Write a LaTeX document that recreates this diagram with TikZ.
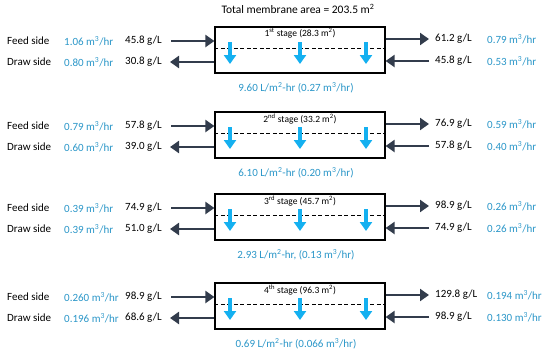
\documentclass[tikz,border=0pt]{standalone}
\usepackage{fontspec}
\setmainfont{Carlito}
\usepackage{tikz}
\usetikzlibrary{positioning,arrows.meta}
\definecolor{flowblue}{RGB}{42,150,200}
\definecolor{permblue}{RGB}{20,176,240}
\definecolor{darkline}{RGB}{50,60,76}

\begin{document}
\begin{tikzpicture}[
    x=1pt, y=-1pt,
    every node/.style={font=\fontsize{11}{13}\selectfont, inner sep=0pt},
    stagebox/.style={draw, line width=1.2pt, minimum width=170pt, minimum height=46pt},
    darkarrow/.style={darkline, line width=2.8pt, -{Triangle[length=9pt,width=12pt]}},
    permarrow/.style={permblue, line width=4.5pt, -{Triangle[length=9pt,width=12pt]}},
    flowtxt/.style={text=flowblue, anchor=west},
    conctxt/.style={anchor=west}
]

\useasboundingbox (0,0) rectangle (550,357);

\node[font=\fontsize{11.5}{13}\selectfont] (title) at (298,9) {Total membrane area = 203.5 m\textsuperscript{2}};

\foreach \i/\t/\ord/\area/\qfi/\cfi/\qdo/\cdo/\cfo/\qfo/\cdi/\qdi/\flux in {
    1/27/st/28.3/1.06/45.8/0.80/30.8/61.2/0.79/45.8/0.53/{9.60 L/m\textsuperscript{2}-hr (0.27 m\textsuperscript{3}/hr)},
    2/112/nd/33.2/0.79/57.8/0.60/39.0/76.9/0.59/57.8/0.40/{6.10 L/m\textsuperscript{2}-hr (0.20 m\textsuperscript{3}/hr)},
    3/194/rd/45.7/0.39/74.9/0.39/51.0/98.9/0.26/74.9/0.26/{2.93 L/m\textsuperscript{2}-hr, (0.13 m\textsuperscript{3}/hr)},
    4/283/th/96.3/0.260/98.9/0.196/68.6/129.8/0.194/98.9/0.130/{0.69 L/m\textsuperscript{2}-hr (0.066 m\textsuperscript{3}/hr)}}{

    % membrane module
    \node[stagebox] (b\i) at (300,\t+23) {};
    \node[anchor=north, font=\fontsize{9.5}{11}\selectfont] (s\i) at ([yshift=-2pt]b\i.north)
        {\i\textsuperscript{\ord} stage (\area\ m\textsuperscript{2})};
    \draw[dash pattern=on 4pt off 2.5pt, line width=1.2pt] ([yshift=-22pt]b\i.north west) -- ([yshift=-22pt]b\i.north east);

    % water through the membrane
    \foreach \px in {230,300,366}{
        \draw[permarrow] (\px,\t+15) -- (\px,\t+37);
    }

    % left side
    \node[anchor=west] (fl\i) at (7,\t+14) {Feed side};
    \node[anchor=west] (dl\i) at (7,\t+35) {Draw side};
    \node[flowtxt] (qfi\i) at (64,\t+14) {\qfi\ m\textsuperscript{3}/hr};
    \node[flowtxt] (qdo\i) at (64,\t+35) {\qdo\ m\textsuperscript{3}/hr};
    \node[conctxt] (cfi\i) at (125,\t+14) {\cfi\ g/L};
    \node[conctxt] (cdo\i) at (125,\t+35) {\cdo\ g/L};
    \coordinate (fin\i) at (171,\t+14);
    \coordinate (dout\i) at (170,\t+35);
    \draw[darkarrow] (fin\i) -- (fin\i -| b\i.west);
    \draw[darkarrow] (b\i.west |- dout\i) -- (dout\i);

    % right side
    \node[conctxt] (cfo\i) at (435,\t+12) {\cfo\ g/L};
    \node[conctxt] (cdi\i) at (435,\t+34) {\cdi\ g/L};
    \node[flowtxt] (qfo\i) at (487,\t+12) {\qfo\ m\textsuperscript{3}/hr};
    \node[flowtxt] (qdi\i) at (487,\t+34) {\qdi\ m\textsuperscript{3}/hr};
    \coordinate (fout\i) at (429,\t+12);
    \coordinate (din\i) at (429,\t+34);
    \draw[darkarrow] (b\i.east |- fout\i) -- (fout\i);
    \draw[darkarrow] (din\i) -- (din\i -| b\i.east);

    % water flux
    \node[text=flowblue] (fx\i) at (296,\t+61) {\flux};
}

\end{tikzpicture}
\end{document}
